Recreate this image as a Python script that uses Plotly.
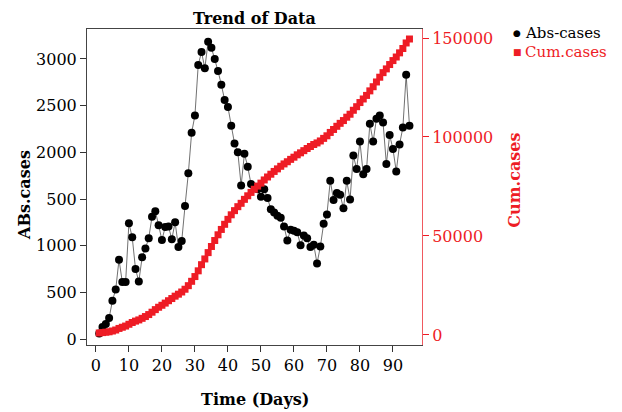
import plotly.graph_objects as go

days = list(range(1, 96))

abs_cases = [
    60, 130, 160, 225, 410, 530, 850, 610, 610, 1240,
    1090, 750, 615, 875, 970, 1080, 1310, 1370, 1220, 1060,
    1200, 1205, 1070, 1250, 985, 1050, 1425, 1775, 2210, 2395,
    2935, 3075, 2900, 3185, 3120, 3000, 2870, 2725, 2560, 2485,
    2285, 2095, 2000, 1645, 1985, 1845, 1660, 1630, 1605, 1525,
    1605, 1510, 1390, 1355, 1320, 1300, 1205, 1055, 1170, 1160,
    1145, 1005, 1110, 1080, 985, 1010, 810, 990, 1235, 1335,
    1695, 1490, 1565, 1545, 1400, 1695, 1495, 1965, 1820, 2115,
    1765, 1820, 2305, 2115, 2360, 2395, 2320, 1875, 2185, 2035,
    1795, 2085, 2265, 2830, 2285,
]

cum_cases = [
    1000, 1200, 1400, 1600, 2000, 2500, 3300, 3900, 4500, 5400,
    6300, 7000, 7600, 8400, 9300, 10300, 11500, 12800, 14000, 15000,
    16100, 17300, 18400, 19600, 20600, 21700, 23100, 24900, 27100, 29500,
    32400, 35500, 38400, 41600, 44700, 47700, 50600, 53300, 55900, 58400,
    60700, 62800, 64800, 66500, 68500, 70300, 72000, 73600, 75200, 76700,
    78300, 79800, 81200, 82600, 83900, 85200, 86400, 87500, 88700, 89800,
    91000, 92000, 93100, 94200, 95200, 96200, 97000, 98000, 99300, 100600,
    102300, 103800, 105400, 106900, 108300, 110000, 111500, 113500, 115300, 117400,
    119200, 121000, 123300, 125400, 127800, 130200, 132500, 134400, 136600, 138600,
    140400, 142500, 144700, 147500, 149500,
]

x_ticks = [0, 10, 20, 30, 40, 50, 60, 70, 80, 90]
y_tickvals = [0, 500, 1000, 1500, 2000, 2500, 3000]
y_ticktext = ["0", "500", "1000", "500", "2000", "2500", "3000"]
y2_tickvals = [0, 50000, 100000, 150000]
y2_ticktext = ["0", "50000", "100000", "150000"]

RED = "#ee1c25"
FONT = "DejaVu Serif"

fig = go.Figure()

fig.add_trace(go.Scatter(
    x=days, y=cum_cases, name="Cum.cases", yaxis="y2",
    mode="markers", showlegend=False,
    marker=dict(symbol="square", size=7, color=RED, line=dict(width=0)),
))

fig.add_trace(go.Scatter(
    x=days, y=abs_cases, name="Abs-cases", yaxis="y",
    mode="lines+markers", showlegend=False,
    line=dict(color="#333333", width=0.7),
    marker=dict(symbol="circle", size=8, color="black"),
))

# page body has an 8px default margin, so the figure is 8px smaller
fig.update_layout(
    width=614, height=404,
    margin=dict(l=79, r=200, t=21, b=67, autoexpand=False),
    paper_bgcolor="white", plot_bgcolor="white",
    font=dict(family=FONT, size=16, color="black"),
    showlegend=False,
    xaxis=dict(
        range=[-2.7, 98.8], tickvals=x_ticks, ticks="outside", ticklen=6,
        tickcolor="#333", showline=True, linecolor="#444", linewidth=1,
        mirror=True, showgrid=False, zeroline=False, automargin=False,
        tickfont=dict(family=FONT, size=16),
    ),
    yaxis=dict(
        range=[-64, 3321], tickvals=y_tickvals, ticktext=y_ticktext,
        ticks="outside", ticklen=6, tickcolor="#333",
        showline=True, linecolor="#444", linewidth=1,
        showgrid=False, zeroline=False, automargin=False,
        tickfont=dict(family=FONT, size=16),
    ),
    yaxis2=dict(
        range=[-5070, 154550], tickvals=y2_tickvals, ticktext=y2_ticktext,
        overlaying="y", side="right",
        ticks="outside", ticklen=6, tickcolor=RED,
        showline=True, linecolor="#f0595f", linewidth=1,
        showgrid=False, zeroline=False, automargin=False,
        tickfont=dict(family=FONT, size=16, color=RED),
    ),
    annotations=[
        dict(text="<b>Trend of Data</b>", x=0.5, y=1.0, xref="paper", yref="paper",
             xanchor="center", yanchor="bottom", yshift=-1, showarrow=False,
             font=dict(family=FONT, size=16, color="black")),
        dict(text="<b>Time (Days)</b>", x=0.5, y=0, xref="paper", yref="paper",
             xanchor="center", yanchor="middle", yshift=-54, showarrow=False,
             font=dict(family=FONT, size=16, color="black")),
        dict(text="<b>ABs.cases</b>", x=0, y=0.475, xref="paper", yref="paper",
             xanchor="center", yanchor="middle", xshift=-62, textangle=-90,
             showarrow=False, font=dict(family=FONT, size=16, color="black")),
        dict(text="<b>Cum.cases</b>", x=1, y=0.52, xref="paper", yref="paper",
             xanchor="center", yanchor="middle", xshift=93, textangle=-90,
             showarrow=False, font=dict(family=FONT, size=16, color=RED)),
        # legend
        dict(text="●", x=1, y=1, xref="paper", yref="paper",
             xanchor="center", yanchor="middle", xshift=95, yshift=-4,
             showarrow=False, font=dict(family=FONT, size=9, color="black")),
        dict(text="Abs-cases", x=1, y=1, xref="paper", yref="paper",
             xanchor="left", yanchor="middle", xshift=101, yshift=-4,
             showarrow=False, font=dict(family=FONT, size=15, color="black")),
        dict(text="■", x=1, y=1, xref="paper", yref="paper",
             xanchor="center", yanchor="middle", xshift=95, yshift=-23,
             showarrow=False, font=dict(family=FONT, size=9, color=RED)),
        dict(text="Cum.cases", x=1, y=1, xref="paper", yref="paper",
             xanchor="left", yanchor="middle", xshift=101, yshift=-23,
             showarrow=False, font=dict(family=FONT, size=15, color=RED)),
    ],
)

fig.write_html("out.html")
